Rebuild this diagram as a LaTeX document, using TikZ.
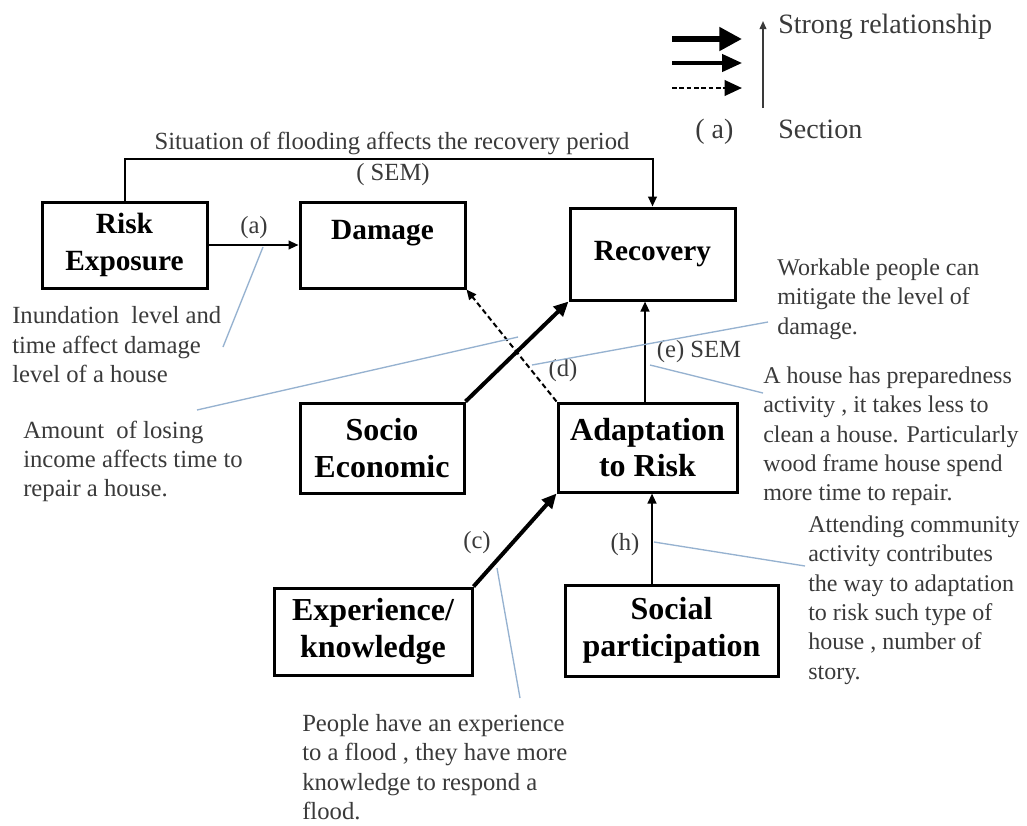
\documentclass[tikz,border=0pt]{standalone}
\usepackage{fontspec}
\setmainfont{Liberation Serif}
\usetikzlibrary{arrows.meta}
\definecolor{callout}{RGB}{150,178,208}
\definecolor{annot}{RGB}{58,58,58}
\begin{document}
\begin{tikzpicture}[x=0.75pt,y=-0.75pt,
  boxa/.style={draw=black, line width=2.25pt, inner sep=0pt, align=center,
    font=\fontsize{22}{28}\selectfont\bfseries},
  boxb/.style={draw=black, line width=2.25pt, inner sep=0pt, align=center,
    font=\fontsize{24}{27.5}\selectfont\bfseries},
  boxtext/.style={inner sep=0pt, font=\fontsize{22}{28}\selectfont\bfseries},
  thinarr/.style={draw=black, line width=1.5pt, -{Triangle[length=7.5pt,width=6.5pt]}},
  thickarr/.style={draw=black, line width=3pt, -{Triangle[length=11pt,width=10pt]}},
  dasharr/.style={draw=black, line width=1.5pt, dash pattern=on 4pt off 2.5pt, -{Triangle[length=7.5pt,width=6.5pt]}},
  lbl/.style={inner sep=0pt, text=annot, font=\fontsize{18.5}{22}\selectfont},
  annotx/.style={anchor=north west, align=left, inner sep=0pt, text=annot, font=\fontsize{18.5}{22}\selectfont},
  annotr/.style={anchor=north west, align=left, inner sep=0pt, text=annot, font=\fontsize{18}{22}\selectfont},
  legtext/.style={anchor=base west, inner sep=0pt, text=annot, font=\fontsize{21}{25}\selectfont},
  calloutline/.style={draw=callout, line width=1pt}
]
\fill[white] (0,0) rectangle (1027,825);
\useasboundingbox (0,0) rectangle (1027,825);

% ---------- legend ----------
\coordinate (l1s) at (672,39);  \coordinate (l1e) at (742,39);
\coordinate (l2s) at (672,63);  \coordinate (l2e) at (742,63);
\coordinate (l3s) at (672,88);  \coordinate (l3e) at (742,88);
\coordinate (vs) at (763,108);  \coordinate (ve) at (763,21);
\draw[line width=4.5pt, -{Triangle[length=17pt,width=17pt]}] (l1s) -- (l1e);
\draw[line width=2.6pt, -{Triangle[length=15pt,width=13pt]}] (l2s) -- (l2e);
\draw[line width=2pt, dash pattern=on 3.5pt off 2pt, -{Triangle[length=13pt,width=11.5pt]}] (l3s) -- (l3e);
\draw[draw=annot, line width=1.1pt, -{Triangle[length=6pt,width=5pt]}] (vs) -- (ve);
\node[legtext] (strong) at (778,33) {Strong relationship};
\node[legtext] (section) at (778,138) {Section};
\node[legtext] (seca) at (695,138) {( a)};

% ---------- boxes ----------
\node[boxa, minimum width=123.75pt, minimum height=64.5pt] (risk) at (124.5,245) {Risk\\Exposure};
\node[boxa, minimum width=123.75pt, minimum height=64.5pt] (dmg) at (382.5,245) {};
\node[boxtext, anchor=north] (dmgtext) at (382.5,220) {Damage};
\node[boxa, minimum width=123.75pt, minimum height=69pt] (recov) at (652.5,254) {Recovery};
\node[boxb, minimum width=123pt, minimum height=67.5pt] (socio) at (382,448) {Socio\\Economic};
\node[boxb, minimum width=134.25pt, minimum height=66.75pt] (adapt) at (647.5,447.5) {Adaptation\\to Risk};
\node[boxb, minimum width=148.5pt, minimum height=65.25pt] (exp) at (373,631.5) {Experience/\\knowledge};
\node[boxb, minimum width=159.75pt, minimum height=68.25pt] (social) at (671.5,630.5) {Social\\participation};

% ---------- connectors ----------
\coordinate (ytop) at (0,159);
\coordinate (x645) at (645,0);
\coordinate (x652) at (652,0);
\draw[thinarr] (risk.north) -- (risk.north |- ytop) -| (recov.north);
\draw[thinarr] (risk.east) -- (dmg.west);
\draw[thickarr] (socio.north east) -- (recov.south west);
\draw[dasharr] (adapt.north west) -- (dmg.south east);
\draw[thinarr] (adapt.north -| x645) -- (recov.south -| x645);
\draw[thickarr] (exp.north east) -- (adapt.south west);
\draw[thinarr] (social.north -| x652) -- (adapt.south -| x652);

% ---------- labels ----------
\node[lbl] (title) at (392,143) {Situation of flooding affects the recovery period};
\node[lbl] (semtop) at (393,175) {( SEM)};
\node[lbl] (la) at (254,228) {(a)};
\node[lbl] (ld) at (563,371) {(d)};
\node[lbl] (le) at (699,352) {(e) SEM};
\node[lbl] (lc) at (477,543) {(c)};
\node[lbl] (lh) at (625,545) {(h)};

% ---------- annotations ----------
\node[annotx] (t1) at (12,306.5) {Inundation\ \ level and\\time affect damage\\level of a house};
\node[annotx] (t2) at (23,420.5) {Amount\ \ of losing\\income affects time to\\repair a house.};
\node[annotr] (t3) at (777,258.5) {Workable people can\\mitigate the level of\\damage.};
\node[annotr] (t4) at (763,366.5) {A house has preparedness\\activity , it takes less to\\clean a house. Particularly\\wood frame house spend\\more time to repair.};
\node[annotr] (t5) at (808,515.5) {Attending community\\activity contributes\\the way to adaptation\\to risk such type of\\house , number of\\story.};
\node[annotx] (t6) at (302,714) {People have an experience\\to a flood , they have more\\knowledge to respond a\\flood.};

% ---------- callout lines ----------
\coordinate (ca1) at (263,247); \coordinate (ca2) at (223,347);
\coordinate (cb1) at (518,337); \coordinate (cb2) at (197,410);
\coordinate (cd1) at (532,365); \coordinate (cd2) at (768,322);
\coordinate (ce1) at (650,365); \coordinate (ce2) at (763,393);
\coordinate (ch1) at (654,542); \coordinate (ch2) at (805,566);
\coordinate (cc1) at (497,568); \coordinate (cc2) at (520,698);
\draw[calloutline] (ca1) -- (ca2);
\draw[calloutline] (cb1) -- (cb2);
\draw[calloutline] (cd1) -- (cd2);
\draw[calloutline] (ce1) -- (ce2);
\draw[calloutline] (ch1) -- (ch2);
\draw[calloutline] (cc1) -- (cc2);
\end{tikzpicture}
\end{document}
